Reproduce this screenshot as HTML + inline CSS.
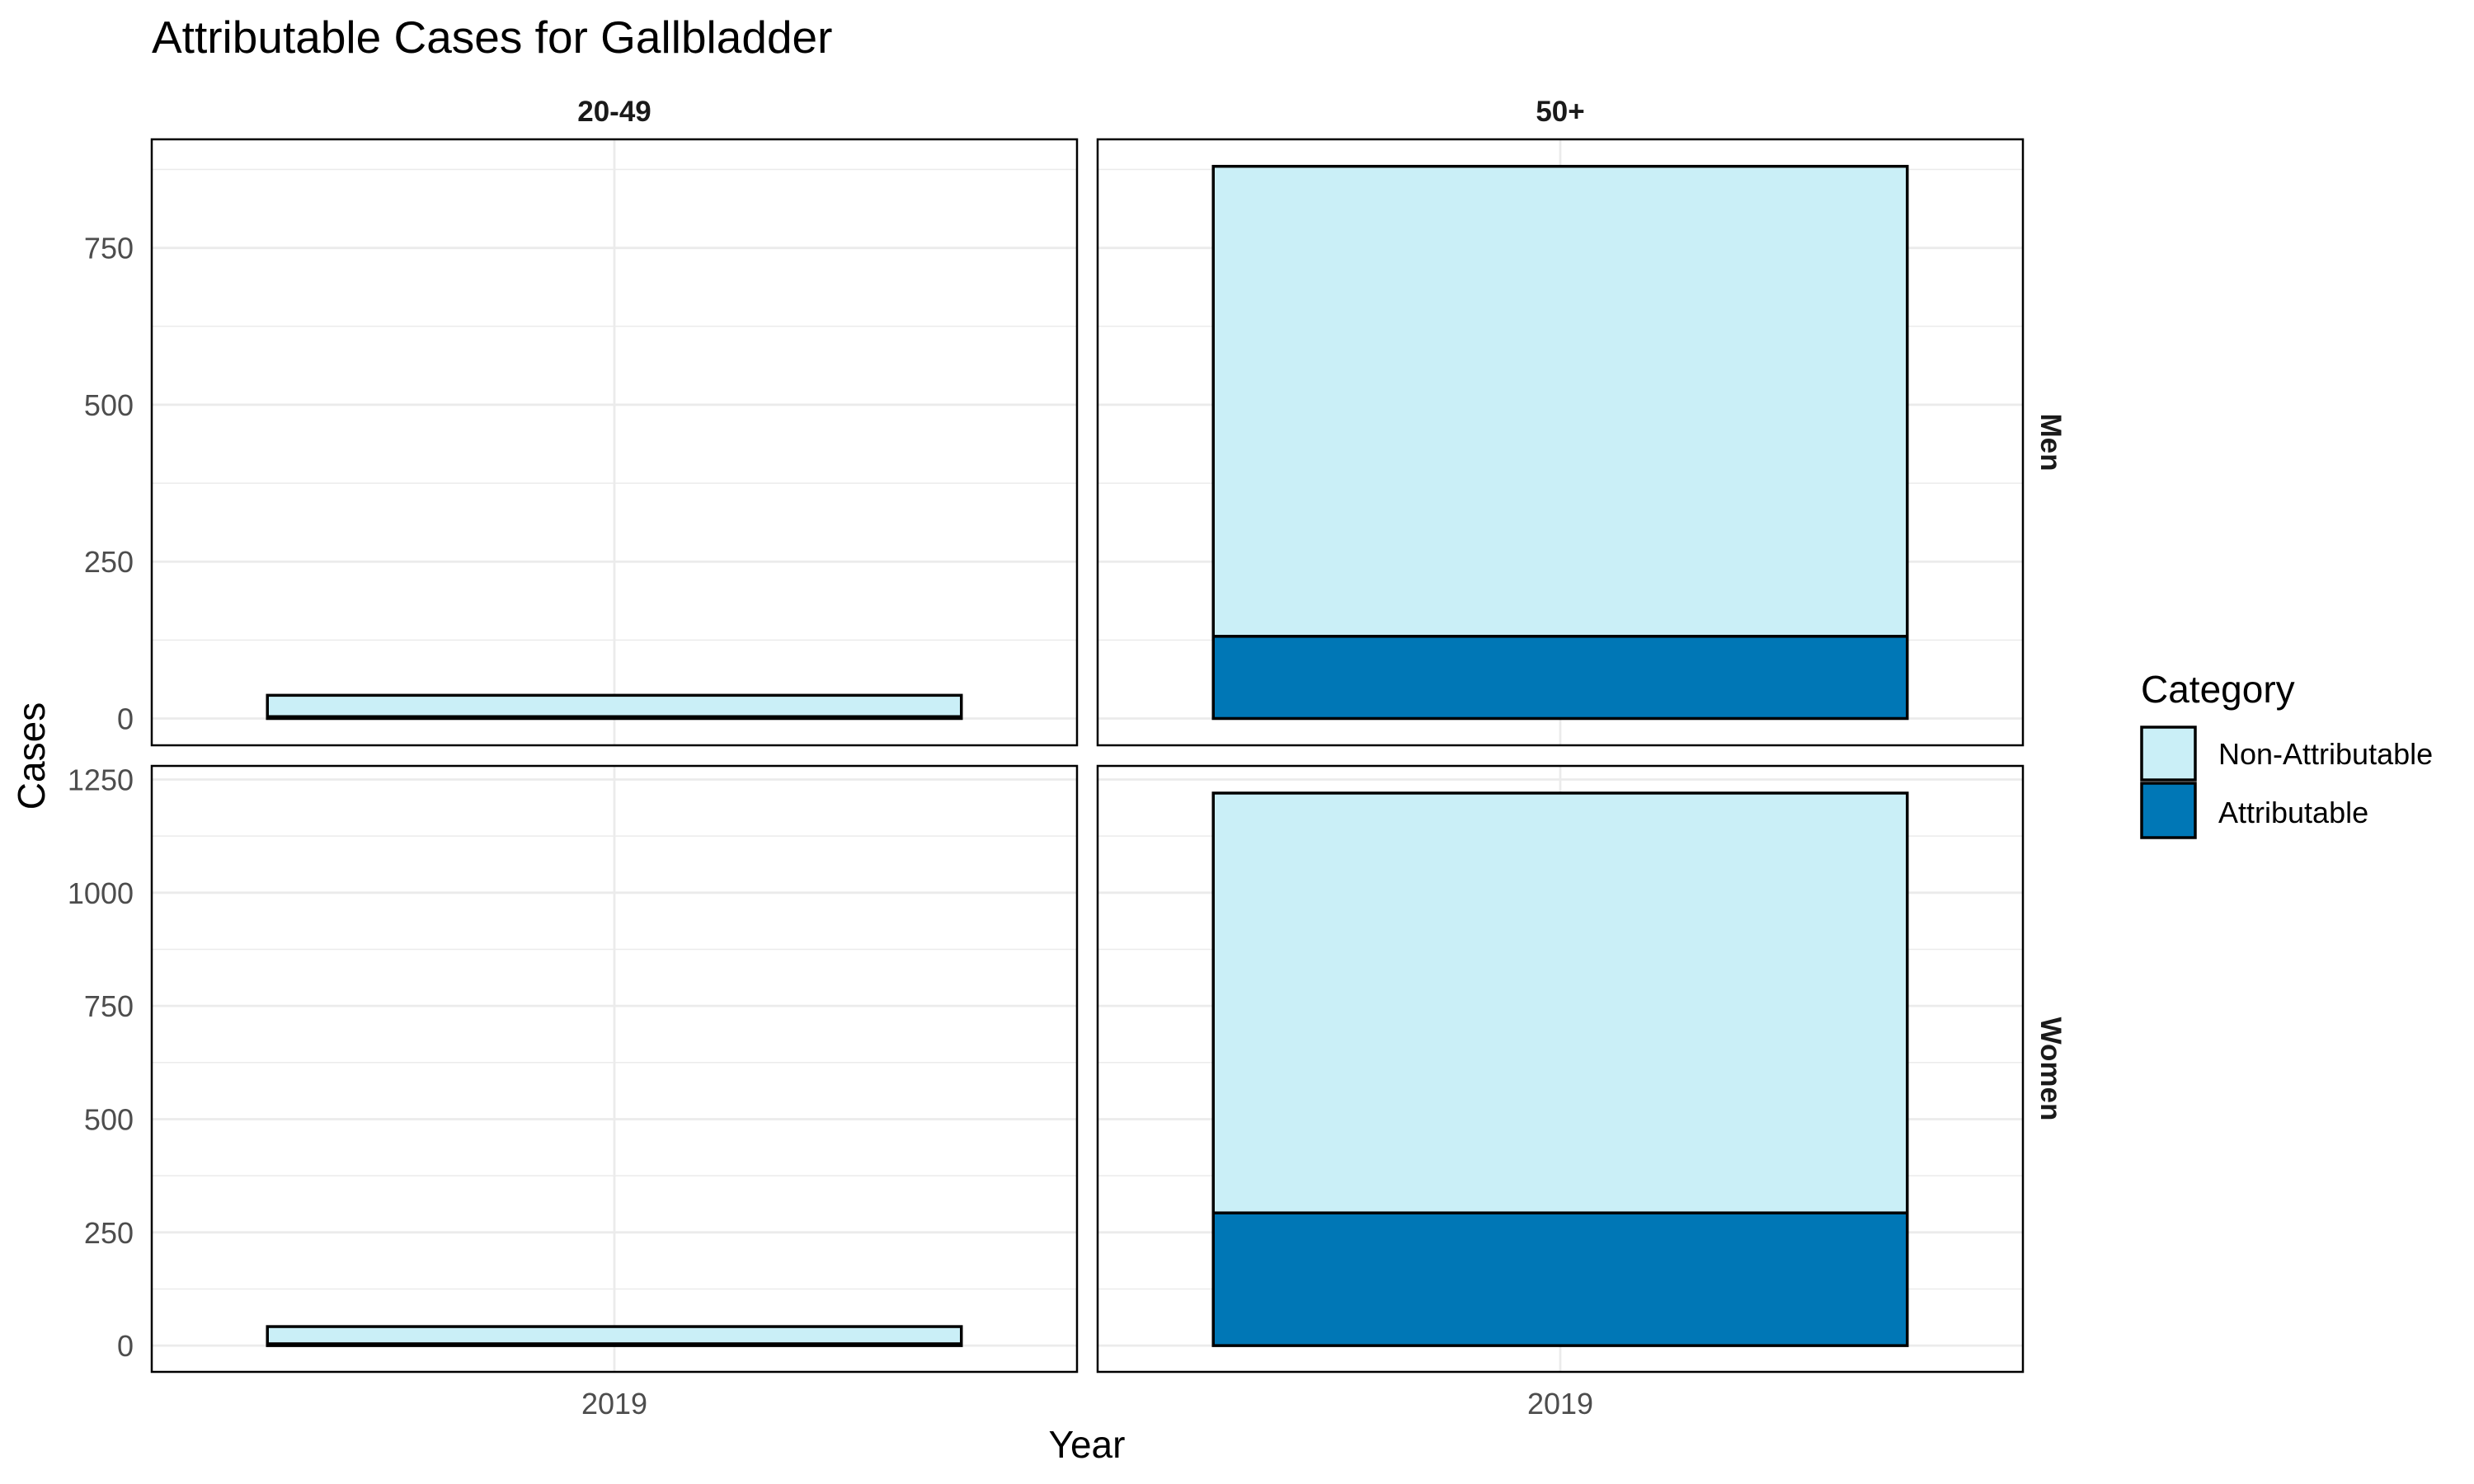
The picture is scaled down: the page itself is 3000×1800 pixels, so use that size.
<!DOCTYPE html>
<html><head><meta charset="utf-8"><style>
html,body{margin:0;padding:0;background:#fff;}
svg{display:block;font-family:"Liberation Sans",Arial,sans-serif;}
</style></head><body>
<svg id="chart" width="3000" height="1800" viewBox="0 0 3000 1800" xmlns="http://www.w3.org/2000/svg">
<text x="184" y="64" font-size="55" fill="#000">Attributable Cases for Gallbladder</text>
<text transform="translate(54,917) rotate(-90)" text-anchor="middle" font-size="46" fill="#000">Cases</text>
<text x="1318" y="1768" text-anchor="middle" font-size="46" fill="#000">Year</text>
<g id="panels"></g>
<g>
<text x="2596" y="852" font-size="46" fill="#000">Category</text>
<rect x="2597" y="882" width="65" height="64" fill="#caeff7" stroke="#000" stroke-width="3.5"/>
<text x="2690" y="927" font-size="36" fill="#000">Non-Attributable</text>
<rect x="2597" y="950" width="65" height="66" fill="#0077b6" stroke="#000" stroke-width="3.5"/>
<text x="2690" y="998" font-size="36" fill="#000">Attributable</text>
</g>
</svg>
<script>
const ageGroups = ["20-49", "50+"];
const sexes = ["Men", "Women"];
const years = ["2019"];
const attributable = [[3, 131], [4, 293]];
const nonAttributable = [[34, 749], [38, 927]];
const menTicks = [0, 250, 500, 750];
const womenTicks = [0, 250, 500, 750, 1000, 1250];

const NS = "http://www.w3.org/2000/svg";
const g = document.getElementById("panels");
function mk(tag, attrs, parent) {
  const e = document.createElementNS(NS, tag);
  for (const k in attrs) e.setAttribute(k, attrs[k]);
  (parent || g).appendChild(e);
  return e;
}
const colX = [184, 1331], panelW = 1122;
const rowY = [169, 929], panelH = 735;
const rowDomain = [[-42.7, 923], [-58, 1280]];
const rowTicks = [menTicks, womenTicks];

sexes.forEach((sex, r) => {
  const [d0, d1] = rowDomain[r];
  const top = rowY[r], bot = top + panelH;
  const y = v => bot - (v - d0) / (d1 - d0) * panelH;
  const ticks = rowTicks[r];
  ageGroups.forEach((age, c) => {
    const left = colX[c], right = left + panelW;
    const x = i => left + panelW * (i + 0.5) / years.length;
    const bw = panelW * 0.75 / years.length;
    for (let i = 0; i < ticks.length; i++) {
      const step = ticks[1] - ticks[0];
      const mv = ticks[i] + step / 2;
      if (y(mv) > top) {
        const ln = mk("line", {x1: left, x2: right, y1: y(mv), y2: y(mv), stroke: "#ebebeb", "stroke-width": 1.5});
        
        
      }
    }
    ticks.forEach(t => {
      const ln = mk("line", {x1: left, x2: right, y1: y(t), y2: y(t), stroke: "#ebebeb", "stroke-width": 2.8});
      
      
    });
    years.forEach((yr, i) => {
      const vl = mk("line", {x1: x(i), x2: x(i), y1: top, y2: bot, stroke: "#ebebeb", "stroke-width": 2.8});
      
      
      const a = attributable[r][c], n = nonAttributable[r][c];
      const b1 = mk("rect", {x: x(i) - bw / 2, y: y(a), width: bw, height: y(0) - y(a), fill: "#0077b6", stroke: "#000", "stroke-width": 3.5});
      
      
      const b2 = mk("rect", {x: x(i) - bw / 2, y: y(a + n), width: bw, height: y(a) - y(a + n), fill: "#caeff7", stroke: "#000", "stroke-width": 3.5});
      
      
      if (r === sexes.length - 1) {
        const tl = mk("text", {x: x(i), y: 1715, "text-anchor": "middle", "font-size": 36, fill: "#4d4d4d"});
        tl.textContent = yr;
        
        
      }
    });
    const border = mk("rect", {x: left, y: top, width: panelW, height: panelH, fill: "none", stroke: "#000", "stroke-width": 2.5});
    
    
    if (r === 0) {
      const st = mk("text", {x: left + panelW / 2, y: 147, "text-anchor": "middle", "font-size": 35, "font-weight": "bold", fill: "#1a1a1a"});
      st.textContent = age;
      
      
    }
    if (c === 0) {
      ticks.forEach(t => {
        const tl = mk("text", {x: 162, y: y(t) + 13, "text-anchor": "end", "font-size": 36, fill: "#4d4d4d"});
        tl.textContent = t;
        
        
      });
    }
  });
  const rs = mk("text", {transform: "translate(2475," + (top + panelH / 2) + ") rotate(90)", "text-anchor": "middle", "font-size": 35, "font-weight": "bold", fill: "#1a1a1a"});
  rs.textContent = sex;
  
  
});
</script>
</body></html>
